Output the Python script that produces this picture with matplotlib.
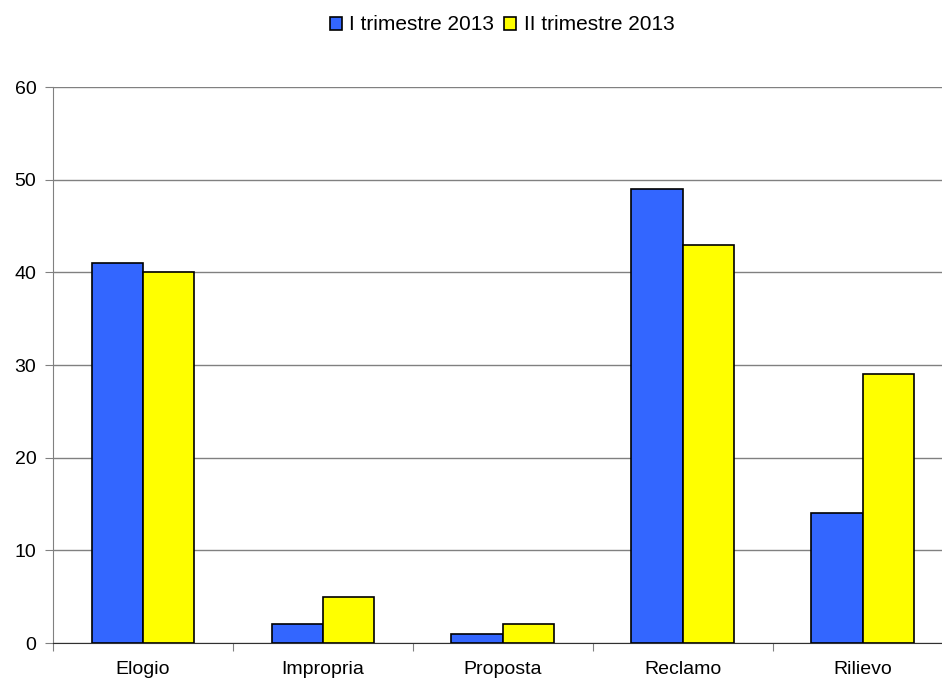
import matplotlib
matplotlib.use("Agg")
import matplotlib.pyplot as plt
import numpy as np

plt.rcParams['font.family'] = ['Liberation Sans', 'DejaVu Sans']

categories = ['Elogio', 'Impropria', 'Proposta', 'Reclamo', 'Rilievo']
trim1 = [41, 2, 1, 49, 14]
trim2 = [40, 5, 2, 43, 29]
series_names = ['I trimestre 2013', 'II trimestre 2013']

fig = plt.figure(figsize=(9.42, 6.83), dpi=100)
# axes runs slightly past the right edge of the picture, like the original
ax = fig.add_axes([53 / 942, 1 - 643 / 683, 899.5 / 942, 556 / 683])

x = np.arange(len(categories))
w = 0.285
ax.bar(x - w / 2, trim1, w, color='#3366FF', edgecolor='black', linewidth=1.2, zorder=3)
ax.bar(x + w / 2, trim2, w, color='#FFFF00', edgecolor='black', linewidth=1.2, zorder=3)

ax.set_xlim(-0.5, 4.5)
ax.set_ylim(0, 60)
ax.set_yticks(range(0, 61, 10))
ax.yaxis.grid(True, color='#808080', linewidth=1, zorder=0)
ax.set_axisbelow(True)

for s in ['top', 'right']:
    ax.spines[s].set_visible(False)
ax.spines['left'].set_color('#808080')
ax.spines['bottom'].set_color('#303030')

ax.set_xticks(np.arange(-0.5, 4.6, 1))
ax.set_xticklabels([])
ax.set_xticks(x, minor=True)
ax.set_xticklabels(categories, minor=True, fontsize=14)
ax.tick_params(axis='x', which='major', length=6, color='#808080', direction='out')
ax.tick_params(axis='x', which='minor', length=0, pad=13)
ax.tick_params(axis='y', length=6, color='#808080', labelsize=14, pad=6)

handles = [plt.Rectangle((0, 0), 1, 1, facecolor=c, edgecolor='black', linewidth=1.2)
           for c in ['#3366FF', '#FFFF00']]
fig.legend(handles, series_names, loc='center', bbox_to_anchor=(502 / 942, 1 - 25 / 683),
           ncol=2, frameon=False, fontsize=15, handlelength=0.6, handleheight=0.6,
           handletextpad=0.35, columnspacing=0.45)

fig.savefig('out.png', dpi=100)
